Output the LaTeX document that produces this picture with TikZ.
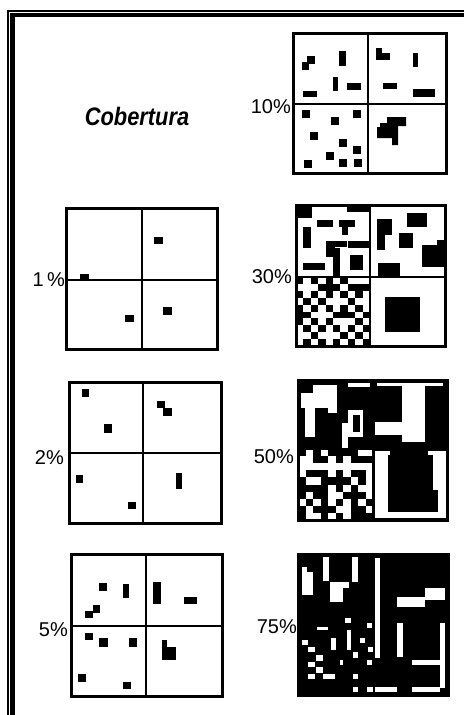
\documentclass[tikz,border=0pt]{standalone}
\usepackage{fontspec}
\setmainfont{Liberation Sans}
\usepackage{tikz}
\usetikzlibrary{positioning}

\tikzset{
  pct/.style={font=\fontsize{20}{20}\selectfont, inner sep=0pt, anchor=east},
  panel/.style={line width=3pt},
  divider/.style={line width=1.2pt},
  blk/.style={fill=black},
  wht/.style={fill=white}
}

\begin{document}
\begin{tikzpicture}[x=1pt, y=-1pt]
      \useasboundingbox[fill=white] (0,0) rectangle (464,715);
      % Frame
      \fill (7,10) rectangle (8.7,715);
      \fill (7,10) rectangle (464,11.5);
      \fill (10,13) rectangle (15,715);
      \fill (10,13) rectangle (464,17);

      % Title
      \node[font=\fontsize{23}{23}\selectfont\bfseries\itshape] (title) at (137,116) {\scalebox{0.95}[1.1]{Cobertura}};

      % Labels
      \node[pct] (l10) at (291,107) {10\%};
      \node[pct] (l1) at (65,280) {1\,\%};
      \node[pct] (l2) at (64,458) {2\%};
      \node[pct] (l5) at (68,630) {5\%};
      \node[pct] (l30) at (292,277) {30\%};
      \node[pct] (l50) at (294,457) {50\%};
      \node[pct] (l75) at (297,627) {75\%};

      % 10%
      \fill (339,51) rectangle (346,66);
      \fill (302,62) rectangle (309,70);
      \fill (307,56) rectangle (315,64);
      \fill (333,77) rectangle (338,91);
      \fill (347,83) rectangle (361,90);
      \fill (303,91) rectangle (317,97);
      \fill (376,48) rectangle (382,60);
      \fill (376,53) rectangle (390,60);
      \fill (413,53) rectangle (418,67);
      \fill (383,83) rectangle (397,89);
      \fill (413,89) rectangle (435,97);
      \foreach \x/\y in {302/110, 331/117, 353/110, 310/132, 339/139, 353/146,
                         326/152, 339/159, 354/159, 304/160}
        \fill (\x,\y) rectangle ++(7.5,7.5);
      \fill (380,123) -- (387,123) -- (387,117) -- (406,117) -- (406,126)
            -- (398,126) -- (398,145) -- (392,145) -- (392,138) -- (377,138)
            -- (377,127) -- (380,127) -- cycle;
      \draw[panel] (293,33) rectangle (446,173);
      \draw[divider] (368,33) -- (368,173) (293,104) -- (446,104);

      % 1%
      \fill (154,237) rectangle (163,244);
      \fill (80,274) rectangle (89,281);
      \fill (125,315) rectangle (134,322);
      \fill (163,307) rectangle (172,315);
      \draw[panel] (66,208) rectangle (217,349);
      \draw[divider] (142,208) -- (142,349) (66,280) -- (217,280);

      % 2%
      \fill (82,389) rectangle (89,397);
      \fill (104,424) rectangle (112,433);
      \fill (157,401) rectangle (165,408);
      \fill (163,408) rectangle (172,416);
      \fill (76,475) rectangle (83,483);
      \fill (176,473) rectangle (182,489);
      \fill (128,502) rectangle (136,509);
      \draw[panel] (69,382) rectangle (221,523);
      \draw[divider] (143,382) -- (143,523) (69,453) -- (221,453);

      % 5%
      \fill (99,583) rectangle (107,591);
      \fill (123,584) rectangle (129,598);
      \fill (85,611) rectangle (93,618);
      \fill (93,605) rectangle (100,613);
      \fill (153,582) rectangle (161,604);
      \fill (184,597) rectangle (197,604);
      \fill (85,633) rectangle (93,640);
      \fill (99,638) rectangle (108,647);
      \fill (129,638) rectangle (137,647);
      \fill (162,640) rectangle (167,660);
      \fill (162,647) rectangle (176,660);
      \fill (78,674) rectangle (86,682);
      \fill (123,682) rectangle (131,689);
      \draw[panel] (71,554) rectangle (222,696);
      \draw[divider] (146,554) -- (146,696) (71,626) -- (222,626);

      % 30%
      \fill (296,205) rectangle (312,218);
      \fill (347,205) rectangle (370,212);
      \fill (317,220) rectangle (333,227);
      \fill (339,220) rectangle (355,227);
      \fill (342,220) rectangle (348,235);
      \fill (303,227) rectangle (311,248);
      \fill (326,241) rectangle (335,257);
      \fill (326,241) rectangle (347,247);
      \fill (348,241) rectangle (370,248);
      \fill (333,248) rectangle (340,277);
      \fill (350,255) rectangle (363,270);
      \fill (303,263) rectangle (325,270);
      \fill (407,213) rectangle (427,227);
      \fill (377,219) rectangle (385,250);
      \fill (379,219) rectangle (392,235);
      \fill (399,233) rectangle (413,248);
      \fill (422,245) rectangle (445,267);
      \fill (437,240) rectangle (445,260);
      \fill (378,263) rectangle (400,277);
      \foreach \c in {0,...,9}
        \foreach \r in {0,...,9} {
          \pgfmathtruncatemacro\v{mod(\c*\c*3+\r*\r*5+\c*\r*7+\c*2+\r,10)}
          \pgfmathtruncatemacro\w{mod(\c+\r,2)}
          \ifnum\w=0 \ifnum\v<8 \fill (296+\c*7.4,277+\r*6.9) rectangle ++(7.4,6.9); \fi
          \else \ifnum\v<1 \fill (296+\c*7.4,277+\r*6.9) rectangle ++(7.4,6.9); \fi\fi
        }
      \fill (385,297) rectangle (420,332);
      \draw[panel] (296,205) rectangle (445,346);
      \draw[divider] (370,205) -- (370,346) (296,277) -- (445,277);

      % 50%
      \fill (298,380) rectangle (447,520);
      \fill[wht] (313,385) rectangle (328,407);
      \fill[wht] (301,393) rectangle (333,408);
      \fill[wht] (305,408) rectangle (315,437);
      \fill[wht] (328,385) rectangle (337,413);
      \fill[wht] (348,383) rectangle (370,387);
      \fill[wht] (348,410) rectangle (363,437);
      \fill (353,415) rectangle (360,432);
      \fill[wht] (342,423) rectangle (348,448);
      \fill[wht] (377,383) rectangle (443,386);
      \fill[wht] (402,386) rectangle (425,442);
      \fill[wht] (375,422) rectangle (402,435);
      \fill[wht] (375,451) rectangle (446,518);
      \fill (388,455) rectangle (433,512);
      \fill (433,490) rectangle (438,512);
      \fill (390,449) rectangle (428,455);
      \fill[wht] (298,449) rectangle (373,520);
      \foreach \c in {0,...,9}
        \foreach \r in {0,...,9} {
          \pgfmathtruncatemacro\v{mod(\c*\c*5+\r*\r*3+\c*\r*7+\c+\r*3,10)}
          \pgfmathtruncatemacro\w{mod(\c+\r,2)}
          \ifnum\w=0 \ifnum\v<8 \fill (298+\c*7.5,449+\r*7.1) rectangle ++(7.5,7.1); \fi
          \else \ifnum\v<3 \fill (298+\c*7.5,449+\r*7.1) rectangle ++(7.5,7.1); \fi\fi
        }
      \draw[panel] (298,380) rectangle (447,520);
      \draw[divider] (373,380) -- (373,520) (298,449) -- (447,449);

      % 75%
      \fill (298,554) rectangle (448,695);
      \foreach \xa/\ya/\xb/\yb in {302/567/307/595, 302/572/313/595, 323/557/329/581,
          330/582/343/602, 343/582/349/588, 352/557/358/582, 375/558/380/658,
          397/597/425/607, 425/588/445/600, 397/623/403/657, 440/623/445/688,
          412/660/440/665, 412/687/440/692, 375/687/397/692, 367/687/373/692,
          353/687/358/692, 302/640/308/645, 308/647/315/652, 316/655/323/661,
          308/662/315/667, 308/674/315/679, 316/667/323/673, 323/674/335/679,
          331/638/336/650, 340/660/343/665, 347/630/351/650, 345/618/351/623,
          317/627/328/630, 353/652/358/658, 353/674/358/679, 360/638/365/643,
          367/623/372/628, 368/647/373/652, 367/660/372/665}
        \fill[wht] (\xa,\ya) rectangle (\xb,\yb);
      \draw[panel] (298,554) rectangle (448,695);
\end{tikzpicture}
\end{document}
